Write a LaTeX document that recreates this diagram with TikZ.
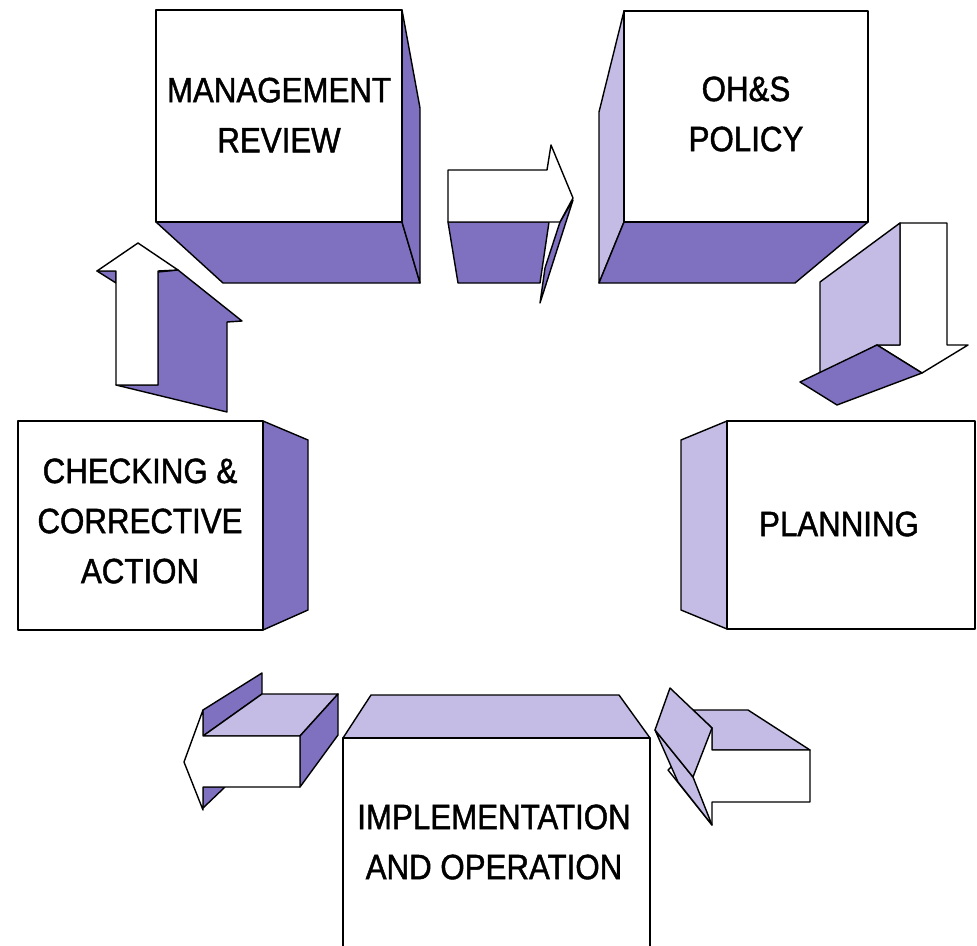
\documentclass[tikz,border=0pt]{standalone}
\usepackage{fontspec}
\setmainfont[FakeStretch=0.89,FakeBold=1.3]{Liberation Sans}
\definecolor{dk}{RGB}{128,112,192}
\definecolor{lt}{RGB}{196,188,228}
\begin{document}
\begin{tikzpicture}[x=0.02cm,y=-0.02cm,
  edge/.style={draw=black,line width=0.8pt,line join=round},
  darkface/.style={edge,fill=dk},
  lightface/.style={edge,fill=lt},
  frontface/.style={edge,fill=white},
  lbl/.style={font=\fontsize{20}{28.5}\selectfont,align=center,text=black,inner sep=0pt}]
\useasboundingbox (0,0) rectangle (977,946);
\clip (0,0) rectangle (977,946);
% Management review box
\path[darkface] (156,222) -- (402,222) -- (420,283) -- (223,283) -- cycle;
\path[darkface] (402,10) -- (420,108) -- (420,283) -- (402,222) -- cycle;
\path[frontface] (156,10) rectangle (402,222);
\node[lbl] (mr) at (279,115) {MANAGEMENT\\REVIEW};
% OH&S policy box
\path[lightface] (624,11) -- (599,112) -- (599,283) -- (624,222) -- cycle;
\path[darkface] (624,222) -- (868,222) -- (795,283) -- (599,283) -- cycle;
\path[frontface] (624,11) rectangle (868,222);
\node[lbl] (pol) at (746,114) {OH\&S\\POLICY};
% Checking box
\path[darkface] (263,421) -- (308,440) -- (308,610) -- (263,630) -- cycle;
\path[frontface] (18,421) rectangle (263,630);
\node[lbl] (chk) at (140,521) {CHECKING \&\\CORRECTIVE\\ACTION};
% Planning box
\path[lightface] (727,421) -- (681,440) -- (681,610) -- (727,629) -- cycle;
\path[frontface] (727,421) rectangle (975,629);
\node[lbl] (plan) at (839,524) {PLANNING};
% Implementation box
\path[lightface] (343,738) -- (371,695) -- (619,695) -- (650,738) -- cycle;
\path[frontface] (343,738) rectangle (650,960);
\node[lbl] (impl) at (494,842) {IMPLEMENTATION\\AND OPERATION};
% Arrow 1: review -> policy
\path[darkface] (448,222) -- (549,222) -- (540,283) -- (458,283) -- cycle;
\path[darkface] (573,200) -- (540,303) -- (545,268) -- (560,222) -- cycle;
\path[frontface] (448,170) -- (547,170) -- (551,145) -- (573,198) -- (560,222) -- (448,222) -- cycle;
% Arrow 2: policy -> planning
\path[frontface] (900,223) -- (947,223) -- (947,345) -- (968,345) -- (922,373) -- (877,345) -- (900,345) -- cycle;
\path[lightface] (900,223) -- (820,282) -- (820,374) -- (877,345) -- (900,345) -- cycle;
\path[darkface] (877,345) -- (922,373) -- (837,405) -- (800,382) -- cycle;
% Arrow 3: checking -> review
\path[darkface] (116,385) -- (158,385) -- (158,272) -- (178,270) -- (242,321) -- (227,322) -- (227,412) -- cycle;
\path[darkface] (97,271) -- (116,271) -- (116,283) -- cycle;
\path[frontface] (116,385) -- (116,271) -- (97,271) -- (138,243) -- (178,270) -- (158,271) -- (158,385) -- cycle;
% Arrow 4: implementation -> checking
\path[darkface] (203,710) -- (262,673) -- (262,694) -- (203,736) -- cycle;
\path[lightface] (203,736) -- (262,694) -- (338,694) -- (300,736) -- cycle;
\path[darkface] (300,736) -- (338,694) -- (338,735) -- (300,787) -- cycle;
\path[darkface] (203,787) -- (225,787) -- (203,808) -- cycle;
\path[frontface] (300,736) -- (203,736) -- (203,710) -- (184,762) -- (203,810) -- (203,787) -- (300,787) -- cycle;
% Arrow 5: planning -> implementation
\path[lightface] (693,710) -- (748,710) -- (810,750) -- (712,750) -- (712,728) -- cycle;
\path[frontface] (712,750) -- (810,750) -- (810,802) -- (712,802) -- (712,825) -- (668,770) -- (712,728) -- cycle;
\path[lightface] (655,730) -- (693,777) -- (712,825) -- (678,782) -- cycle;
\path[lightface] (670,688) -- (712,728) -- (693,777) -- (655,730) -- cycle;
\end{tikzpicture}
\end{document}
